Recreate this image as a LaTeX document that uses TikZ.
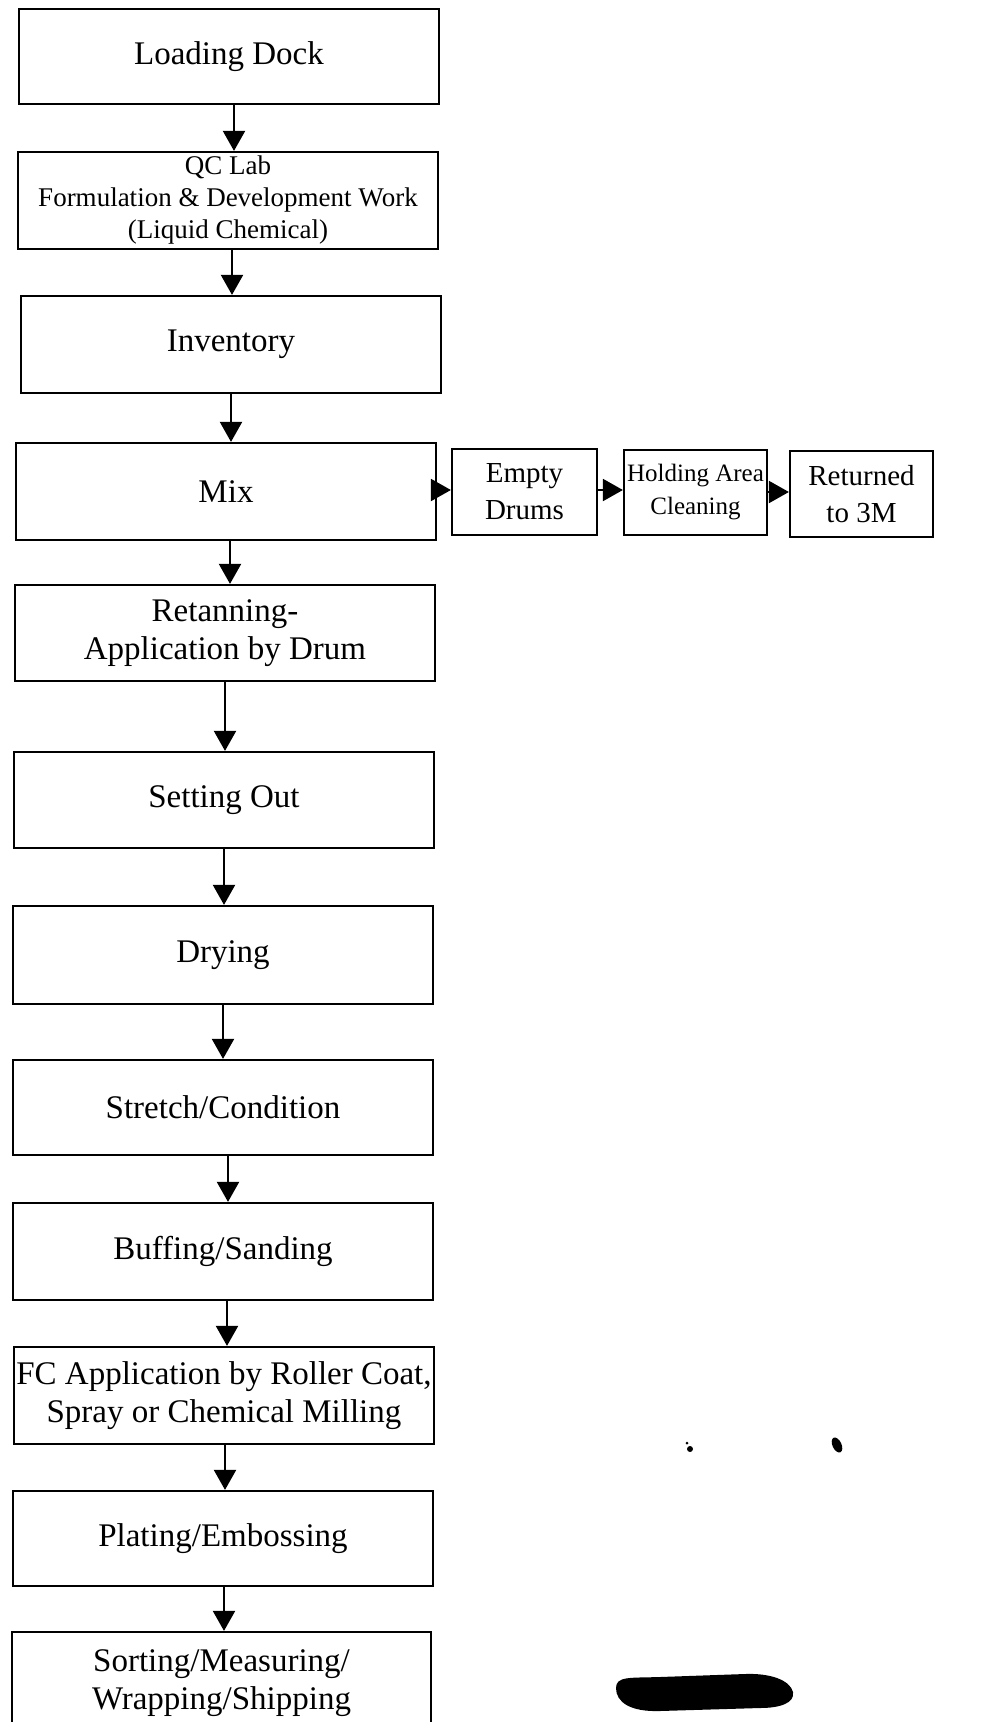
\documentclass[tikz,border=0pt]{standalone}
\usepackage{fontspec}
\setmainfont{Liberation Serif}
\usetikzlibrary{arrows.meta}

\tikzset{
  stepbox/.style={draw=black, line width=2.2pt, rectangle, inner sep=0pt,
    align=center, text=black, font=\fontsize{33}{38}\selectfont},
  sidebox/.style={stepbox, font=\fontsize{29}{37}\selectfont},
  arr/.style={line width=2pt, -{Triangle[length=20pt,width=22pt]}},
}

\begin{document}
\begin{tikzpicture}[x=1pt, y=-1pt]
  \useasboundingbox (0,0) rectangle (988,1722);
  \fill[white] (0,0) rectangle (988,1722);
  \clip (0,0) rectangle (988,1722);

  % main process column
  \node[stepbox, minimum width=420pt, minimum height=95pt] (load) at (229,56.5) {Loading Dock};
  \node[stepbox, minimum width=420pt, minimum height=97pt, font=\fontsize{27}{32}\selectfont] (qc) at (228,200.5)
    {QC Lab\\Formulation \& Development Work\\(Liquid Chemical)};
  \node[stepbox, minimum width=420pt, minimum height=97pt] (inv) at (231,344.5) {Inventory};
  \node[stepbox, minimum width=420pt, minimum height=97pt] (mix) at (226,491.5) {Mix};
  \node[stepbox, minimum width=420pt, minimum height=96pt] (ret) at (225,633) {Retanning-\\Application by Drum};
  \node[stepbox, minimum width=420pt, minimum height=96pt] (set) at (224,800) {Setting Out};
  \node[stepbox, minimum width=420pt, minimum height=98pt] (dry) at (223,955) {Drying};
  \node[stepbox, minimum width=420pt, minimum height=95pt] (str) at (223,1107.5) {Stretch/Condition};
  \node[stepbox, minimum width=420pt, minimum height=97pt] (buf) at (223,1251.5) {Buffing/Sanding};
  \node[stepbox, minimum width=420pt, minimum height=97pt] (fc) at (224,1395.5)
    {FC Application by Roller Coat,\\Spray or Chemical Milling};
  \node[stepbox, minimum width=420pt, minimum height=95pt] (pla) at (223,1538.5) {Plating/Embossing};
  \node[stepbox, minimum width=419pt, minimum height=102pt] (sort) at (221.5,1683)
    {Sorting/Measuring/\\Wrapping/Shipping};

  % drum return branch
  \node[sidebox, minimum width=145pt, minimum height=86pt] (drums) at (524.5,492) {Empty\\Drums};
  \node[sidebox, minimum width=143pt, minimum height=85pt, font=\fontsize{25}{33}\selectfont] (hold) at (695.5,492.5)
    {Holding Area\\Cleaning};
  \node[sidebox, minimum width=143pt, minimum height=86pt] (back) at (861.5,494) {Returned\\to 3M};

  % vertical flow
  \draw[arr] (load.south -| 234,0) -- (qc.north -| 234,0);
  \draw[arr] (qc.south -| 232,0) -- (inv.north -| 232,0);
  \draw[arr] (inv.south -| 231,0) -- (mix.north -| 231,0);
  \draw[arr] (mix.south -| 230,0) -- (ret.north -| 230,0);
  \draw[arr] (ret.south -| 225,0) -- (set.north -| 225,0);
  \draw[arr] (set.south -| 224,0) -- (dry.north -| 224,0);
  \draw[arr] (dry.south -| 223,0) -- (str.north -| 223,0);
  \draw[arr] (str.south -| 228,0) -- (buf.north -| 228,0);
  \draw[arr] (buf.south -| 227,0) -- (fc.north -| 227,0);
  \draw[arr] (fc.south -| 225,0) -- (pla.north -| 225,0);
  \draw[arr] (pla.south -| 224,0) -- (sort.north -| 224,0);

  % horizontal flow
  \draw[arr] (mix.east |- 0,490) -- (drums.west |- 0,490);
  \draw[arr] (drums.east |- 0,490) -- (hold.west |- 0,490);
  \draw[arr] (hold.east |- 0,492) -- (back.west |- 0,492);

  % marks on the sheet
  \fill[black] (616,1688) .. controls (616,1676) and (630,1678) .. (660,1677)
    -- (745,1674) .. controls (770,1673) and (790,1680) .. (793,1692)
    .. controls (795,1703) and (780,1708) .. (760,1708)
    -- (660,1711) .. controls (630,1712) and (616,1702) .. (616,1688) -- cycle;
  \fill[black, rotate around={-65:(837,1445)}] (837,1445) ellipse (8pt and 4.5pt);
  \fill[black] (690,1449) circle (3pt);
  \fill[black] (687,1443) circle (1.5pt);
\end{tikzpicture}
\end{document}
